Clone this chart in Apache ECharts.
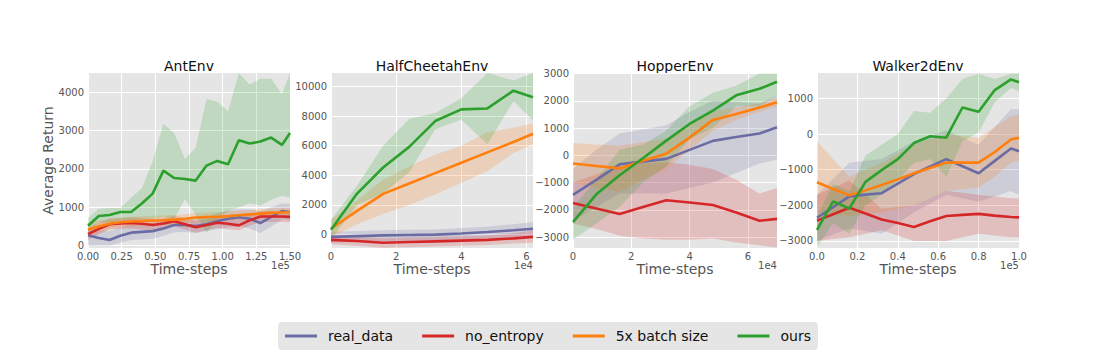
<!DOCTYPE html>
<html>
<head>
<meta charset="utf-8">
<script src="https://cdn.jsdelivr.net/npm/echarts@6/dist/echarts.min.js"></script>
<style>
  html, body { margin: 0; padding: 0; background: #fff; }
  #main { width: 1096px; height: 355px; }
</style>
</head>
<body>
<div id="main"></div>
<script>
// legend names + colours
var methods = ['real_data', 'no_entropy', '5x batch size', 'ours'];
var colors = ['#6c6ca4', '#d62728', '#ff7f0e', '#2ca02c'];

// ---- AntEnv (x in 1e5 steps)
var antSteps = [0, 0.08, 0.16, 0.24, 0.32, 0.40, 0.48, 0.56, 0.64, 0.72, 0.80, 0.88, 0.96, 1.04, 1.12, 1.20, 1.28, 1.36, 1.44, 1.50];
var antRealMean = [270, 200, 150, 260, 340, 360, 380, 450, 540, 540, 510, 560, 640, 700, 740, 700, 590, 750, 900, 880];
var antRealLow = [0, 0, 0, 80, 150, 160, 180, 250, 350, 360, 330, 380, 430, 480, 520, 450, 330, 500, 680, 660];
var antRealHigh = [450, 400, 380, 480, 560, 560, 600, 650, 720, 720, 700, 750, 850, 920, 950, 950, 900, 1000, 1100, 1100];
var antNoEntMean = [300, 440, 560, 580, 590, 570, 540, 580, 640, 560, 480, 540, 600, 570, 530, 660, 760, 760, 760, 750];
var antNoEntLow = [150, 300, 420, 440, 450, 420, 400, 440, 500, 420, 340, 400, 460, 430, 400, 520, 620, 620, 620, 610];
var antNoEntHigh = [450, 600, 700, 720, 740, 720, 700, 720, 780, 720, 640, 680, 740, 720, 700, 820, 900, 900, 900, 890];
var antBatchMean = [420, 500, 570, 610, 630, 645, 655, 665, 680, 700, 735, 745, 755, 770, 795, 815, 835, 855, 865, 870];
var antBatchLow = [250, 350, 440, 490, 510, 520, 530, 540, 560, 580, 620, 630, 640, 650, 680, 700, 720, 740, 750, 750];
var antBatchHigh = [600, 650, 700, 730, 750, 770, 780, 790, 800, 820, 850, 860, 870, 890, 910, 930, 950, 970, 980, 990];
var antOursMean = [520, 774, 800, 878, 878, 1100, 1356, 1956, 1765, 1740, 1696, 2087, 2209, 2122, 2748, 2661, 2713, 2817, 2626, 2939];
var antOursLow = [350, 600, 600, 650, 600, 700, 700, 750, 700, 1220, 800, 330, 700, 900, 1000, 1100, 1050, 1200, 1300, 1250];
var antOursHigh = [720, 960, 980, 980, 1250, 1500, 2200, 3180, 2930, 2260, 2550, 3820, 3750, 3500, 4500, 4200, 4350, 4350, 3950, 4500];
var antXTicks = [0, 0.25, 0.5, 0.75, 1.0, 1.25, 1.5];
var antYTicks = [0, 1000, 2000, 3000, 4000];

// ---- HalfCheetahEnv (x in 1e4 steps)
var hcSteps = [0, 0.8, 1.6, 2.4, 3.2, 4.0, 4.8, 5.6, 6.2];
var hcRealMean = [-150, -100, -50, -20, 0, 80, 180, 300, 400];
var hcRealLow = [-550, -500, -450, -400, -400, -350, -250, -150, -50];
var hcRealHigh = [200, 250, 300, 330, 350, 450, 550, 700, 850];
var hcNoEntMean = [-350, -430, -550, -500, -450, -400, -350, -250, -150];
var hcNoEntLow = [-650, -750, -880, -850, -800, -750, -700, -600, -550];
var hcNoEntHigh = [-100, -150, -250, -200, -150, -100, -50, 100, 300];
var hcBatchMean = [400, 1600, 2750, 3450, 4150, 4850, 5550, 6250, 6800];
var hcBatchLow = [-150, 700, 1400, 2000, 2700, 3500, 4300, 5500, 6100];
var hcBatchHigh = [1000, 2300, 3700, 4600, 5400, 6000, 6900, 7200, 7500];
var hcOursMean = [338, 2770, 4530, 5920, 7660, 8450, 8510, 9710, 9260];
var hcOursLow = [-300, 2000, 2800, 4200, 7100, 7750, 6100, 9000, 7700];
var hcOursHigh = [1000, 3300, 6000, 7800, 8200, 9200, 10900, 10400, 10900];
var hcXTicks = [0, 2, 4, 6];
var hcYTicks = [0, 2000, 4000, 6000, 8000, 10000];

// ---- HopperEnv (x in 1e4 steps)
var hopSteps = [0, 0.8, 1.6, 2.4, 3.2, 4.0, 4.8, 5.6, 6.4, 7.0];
var hopRealMean = [-1450, -900, -330, -230, -130, 200, 530, 670, 800, 1030];
var hopRealLow = [-2400, -1900, -1400, -1400, -1400, -1200, -1000, -650, -300, -150];
var hopRealHigh = [-500, 200, 800, 950, 1100, 1600, 2000, 1950, 1900, 2200];
var hopNoEntMean = [-1750, -1950, -2150, -1900, -1650, -1730, -1820, -2100, -2400, -2330];
var hopNoEntLow = [-2500, -2700, -2950, -3050, -3100, -3100, -3050, -3200, -3300, -3380];
var hopNoEntHigh = [-1000, -700, -400, -300, -250, -350, -500, -900, -1400, -1200];
var hopBatchMean = [-300, -390, -480, -200, 60, 650, 1300, 1520, 1750, 1950];
var hopBatchLow = [-1000, -1200, -1350, -900, -500, 200, 900, 1300, 1600, 1800];
var hopBatchHigh = [450, 400, 350, 480, 600, 1100, 1600, 1750, 1900, 2100];
var hopOursMean = [-2450, -1430, -730, -110, 540, 1150, 1640, 2200, 2440, 2700];
var hopOursLow = [-3100, -2500, -1900, -1000, -400, 600, 1000, 1800, 1800, 2200];
var hopOursHigh = [-1900, -900, 200, 400, 900, 1800, 2300, 2550, 3000, 3000];
var hopXTicks = [0, 2, 4, 6];
var hopYTicks = [-3000, -2000, -1000, 0, 1000, 2000, 3000];

// ---- Walker2dEnv (x in 1e5 steps)
var wkSteps = [0, 0.08, 0.16, 0.24, 0.32, 0.40, 0.48, 0.56, 0.64, 0.72, 0.80, 0.88, 0.96, 1.0];
var wkRealMean = [-2350, -2050, -1750, -1700, -1660, -1390, -1120, -910, -700, -900, -1100, -750, -400, -480];
var wkRealLow = [-3000, -2820, -2650, -2720, -2800, -2500, -2200, -1950, -1700, -1800, -1900, -1750, -1600, -1700];
var wkRealHigh = [-1700, -1250, -800, -750, -700, -450, -200, -50, 100, -100, -300, 200, 700, 700];
var wkNoEntMean = [-2430, -2250, -2070, -2230, -2400, -2500, -2610, -2450, -2300, -2270, -2240, -2290, -2330, -2340];
var wkNoEntLow = [-3000, -2950, -2900, -2800, -2700, -2850, -3000, -3000, -3000, -2900, -2800, -2850, -2900, -2900];
var wkNoEntHigh = [-1700, -1500, -1300, -1700, -2100, -2050, -2000, -1800, -1600, -1650, -1700, -1750, -1800, -1800];
var wkBatchMean = [-1350, -1540, -1720, -1580, -1430, -1270, -1100, -950, -800, -800, -800, -500, -150, -100];
var wkBatchLow = [-2200, -2250, -2300, -2250, -2200, -2100, -2000, -1800, -1600, -1550, -1500, -1200, -800, -750];
var wkBatchHigh = [-200, -700, -1200, -1000, -800, -550, -300, -150, 0, -50, -100, 200, 500, 550];
var wkOursMean = [-2690, -1890, -2090, -1340, -1010, -700, -250, -60, -100, 750, 630, 1240, 1540, 1460];
var wkOursLow = [-3180, -2500, -2800, -2000, -1700, -1300, -800, -700, -1200, -200, 50, 900, 1300, 1200];
var wkOursHigh = [-2300, -1400, -1600, -600, -300, 0, 650, 600, 1000, 1550, 1700, 1550, 1700, 1700];
var wkXTicks = [0, 0.2, 0.4, 0.6, 0.8, 1.0];
var wkYTicks = [-3000, -2000, -1000, 0, 1000];

var envs = [
  { title: 'AntEnv', left: 88, width: 202, xMax: 1.5, yMin: -60, yMax: 4500, digits: 2, offset: '1e5',
    steps: antSteps, xTicks: antXTicks, yTicks: antYTicks,
    mean: [antRealMean, antNoEntMean, antBatchMean, antOursMean],
    low: [antRealLow, antNoEntLow, antBatchLow, antOursLow],
    high: [antRealHigh, antNoEntHigh, antBatchHigh, antOursHigh] },
  { title: 'HalfCheetahEnv', left: 331, width: 202, xMax: 6.2, yMin: -900, yMax: 10900, digits: 0, offset: '1e4',
    steps: hcSteps, xTicks: hcXTicks, yTicks: hcYTicks,
    mean: [hcRealMean, hcNoEntMean, hcBatchMean, hcOursMean],
    low: [hcRealLow, hcNoEntLow, hcBatchLow, hcOursLow],
    high: [hcRealHigh, hcNoEntHigh, hcBatchHigh, hcOursHigh] },
  { title: 'HopperEnv', left: 573, width: 204, xMax: 7.0, yMin: -3400, yMax: 3020, digits: 0, offset: '1e4',
    steps: hopSteps, xTicks: hopXTicks, yTicks: hopYTicks,
    mean: [hopRealMean, hopNoEntMean, hopBatchMean, hopOursMean],
    low: [hopRealLow, hopNoEntLow, hopBatchLow, hopOursLow],
    high: [hopRealHigh, hopNoEntHigh, hopBatchHigh, hopOursHigh] },
  { title: 'Walker2dEnv', left: 817, width: 202, xMax: 1.0, yMin: -3200, yMax: 1720, digits: 1, offset: '1e5',
    steps: wkSteps, xTicks: wkXTicks, yTicks: wkYTicks,
    mean: [wkRealMean, wkNoEntMean, wkBatchMean, wkOursMean],
    low: [wkRealLow, wkNoEntLow, wkBatchLow, wkOursLow],
    high: [wkRealHigh, wkNoEntHigh, wkBatchHigh, wkOursHigh] }
];

var FONT = 'DejaVu Sans';
var GRID_TOP = 73, GRID_H = 175;

function fmtY(v) {
  return v < 0 ? '\u2212' + Math.abs(v) : String(v);
}

function hexA(hex, a) {
  var n = parseInt(hex.slice(1), 16);
  return 'rgba(' + (n >> 16) + ',' + ((n >> 8) & 255) + ',' + (n & 255) + ',' + a + ')';
}

// shaded band as one polygon, coords via the axes
function bandRender(xs, lo, hi, color) {
  return function (params, api) {
    if (params.dataIndex !== 0) return null;
    var pts = [];
    for (var k = 0; k < xs.length; k++) pts.push(api.coord([xs[k], hi[k]]));
    for (var k2 = xs.length - 1; k2 >= 0; k2--) pts.push(api.coord([xs[k2], lo[k2]]));
    return { type: 'polygon', shape: { points: pts }, style: { fill: hexA(color, 0.2) }, silent: true };
  };
}

var grid = [], xAxis = [], yAxis = [], series = [], graphic = [];

envs.forEach(function (env, i) {
  grid.push({ left: env.left, top: GRID_TOP, width: env.width, height: GRID_H,
    show: true, backgroundColor: '#e5e5e5', borderWidth: 0 });

  xAxis.push({
    gridIndex: i, type: 'value', min: 0, max: env.xMax,
    axisLine: { show: false },
    axisTick: { show: false, customValues: env.xTicks },
    axisLabel: { customValues: env.xTicks, color: '#555', fontFamily: FONT, fontSize: 10, margin: 3,
      formatter: (function (d) { return function (v) { return v.toFixed(d); }; })(env.digits) },
    splitLine: { show: true, lineStyle: { color: '#ffffff', width: 1 } },
    name: 'Time-steps', nameLocation: 'middle', nameGap: 13,
    nameTextStyle: { color: '#555', fontFamily: FONT, fontSize: 14 }
  });

  yAxis.push({
    gridIndex: i, type: 'value', min: env.yMin, max: env.yMax,
    axisLine: { show: false },
    axisTick: { show: false, customValues: env.yTicks },
    axisLabel: { customValues: env.yTicks, color: '#555', fontFamily: FONT, fontSize: 10, margin: 4, formatter: fmtY },
    splitLine: { show: true, lineStyle: { color: '#ffffff', width: 1 } },
    name: i === 0 ? 'Average Return' : '', nameLocation: 'middle', nameGap: 33,
    nameTextStyle: { color: '#555', fontFamily: FONT, fontSize: 14 }
  });

  methods.forEach(function (m, s) {
    series.push({
      type: 'custom', name: m + ' band', xAxisIndex: i, yAxisIndex: i, clip: true, z: 1,
      renderItem: bandRender(env.steps, env.low[s], env.high[s], colors[s]),
      data: env.steps.map(function (x, k) { return [x, env.low[s][k], env.high[s][k]]; }),
      encode: { x: 0, y: [1, 2] }, silent: true
    });
  });
  methods.forEach(function (m, s) {
    series.push({
      type: 'line', name: m, xAxisIndex: i, yAxisIndex: i, z: 3 + s,
      showSymbol: false, symbol: 'none', color: colors[s],
      lineStyle: { width: 2.6, color: colors[s] },
      data: env.steps.map(function (x, k) { return [x, env.mean[s][k]]; })
    });
  });

  graphic.push({ type: 'text', x: env.left + env.width / 2, y: 66,
    style: { text: env.title, fontFamily: FONT, fontSize: 14, fontWeight: 'normal', fill: '#111',
      textAlign: 'center', textVerticalAlign: 'middle' } });
  graphic.push({ type: 'text', x: env.left + env.width, y: 265,
    style: { text: env.offset, fontFamily: FONT, fontSize: 10, fontWeight: 'normal', fill: '#555',
      textAlign: 'right', textVerticalAlign: 'middle' } });
});

var chart = echarts.init(document.getElementById('main'), null, { renderer: 'svg' });
chart.setOption({
  animation: false,
  backgroundColor: '#ffffff',
  grid: grid, xAxis: xAxis, yAxis: yAxis, series: series, graphic: graphic,
  legend: {
    data: methods, left: 'center', top: 322,
    icon: 'rect', itemWidth: 32, itemHeight: 3, itemGap: 29,
    backgroundColor: '#e5e5e5', borderRadius: 4, padding: [7, 7],
    textStyle: { fontFamily: FONT, fontSize: 14, color: '#111', padding: [0, 0, 0, 6] },
    selectedMode: false
  }
});
</script>
</body>
</html>
